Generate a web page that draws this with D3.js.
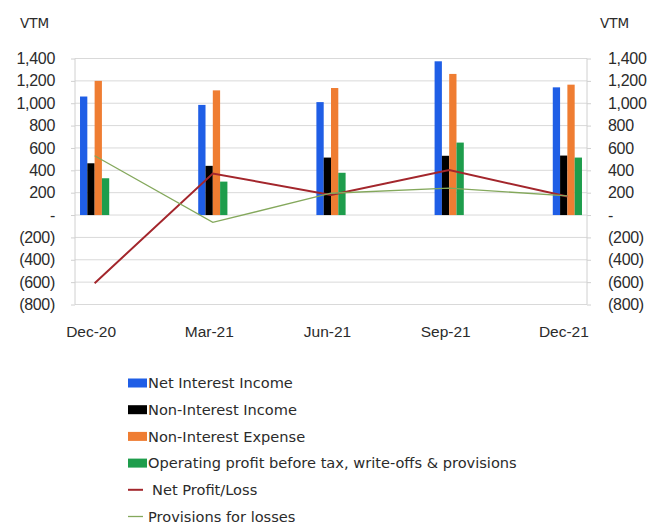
<!DOCTYPE html>
<html>
<head>
<meta charset="utf-8">
<script src="https://cdn.jsdelivr.net/npm/d3@7"></script>
<style>
  html, body { margin: 0; padding: 0; background: #fff; }
  svg { display: block; font-family: "DejaVu Sans", "Noto Sans", sans-serif; }
</style>
</head>
<body>
<svg id="chart" width="652" height="524"></svg>
<script>
// Quarterly figures, VTM
const categories = ["Dec-20", "Mar-21", "Jun-21", "Sep-21", "Dec-21"];
const netInterestIncome = [1060, 985, 1010, 1375, 1142];
const nonInterestIncome = [463, 440, 514, 530, 532];
const nonInterestExpense = [1200, 1115, 1136, 1262, 1166];
const operatingProfit = [329, 299, 378, 648, 514];
const netProfitLoss = [-610, 372, 180, 402, 165];
const provisionsForLosses = [530, -66, 195, 240, 172];
const yTicks = [-800, -600, -400, -200, 0, 200, 400, 600, 800, 1000, 1200, 1400];
const unitLabel = "VTM";

const barSeries = [
  { name: "Net Interest Income", values: netInterestIncome, color: "#1f5ee6" },
  { name: "Non-Interest Income", values: nonInterestIncome, color: "#000000" },
  { name: "Non-Interest Expense", values: nonInterestExpense, color: "#ef7d32" },
  { name: "Operating profit before tax, write-offs & provisions", values: operatingProfit, color: "#1e9d4c" }
];
const lineSeries = [
  { name: "Net Profit/Loss", values: netProfitLoss, color: "#a3262c", width: 2 },
  { name: "Provisions for losses", values: provisionsForLosses, color: "#84a85c", width: 1.3 }
];

const textColor = "#2b2b2b";
const svg = d3.select("#chart");
const plot = { left: 75, right: 587, top: 58.5, bottom: 304.5 };

const x = d3.scalePoint().domain(categories).range([plot.left, plot.right]).padding(0.166);
const y = d3.scaleLinear().domain([-800, 1400]).range([plot.bottom, plot.top]);
const barW = 7.3;
const xb = d3.scaleBand().domain(d3.range(barSeries.length))
  .range([-barW * barSeries.length / 2, barW * barSeries.length / 2]);

const fmt = v => v === 0 ? "-" : (v < 0 ? "(" + d3.format(",")(-v) + ")" : d3.format(",")(v));

// gridlines
svg.append("g").selectAll("line").data(yTicks).join("line")
  .attr("x1", plot.left).attr("x2", plot.right)
  .attr("y1", d => y(d)).attr("y2", d => y(d))
  .attr("stroke", "#d9d9d9").attr("stroke-width", 1);

// plot frame sides
svg.append("g").selectAll("line").data([plot.left, plot.right]).join("line")
  .attr("x1", d => d).attr("x2", d => d)
  .attr("y1", plot.top).attr("y2", plot.bottom)
  .attr("stroke", "#d0d0d0");

// axes
const leftAxis = d3.axisLeft(y).tickValues(yTicks).tickFormat(fmt).tickSize(4).tickPadding(16);
const rightAxis = d3.axisRight(y).tickValues(yTicks).tickFormat(fmt).tickSize(4).tickPadding(17);
const gl = svg.append("g").attr("transform", `translate(${plot.left},0)`).call(leftAxis);
const gr = svg.append("g").attr("transform", `translate(${plot.right},0)`).call(rightAxis);
[gl, gr].forEach(g => {
  g.select(".domain").remove();
  g.selectAll(".tick line").attr("stroke", "#d0d0d0");
  g.selectAll(".tick text").attr("font-size", 16).attr("fill", textColor)
    .attr("letter-spacing", -0.3);
});
gl.selectAll(".tick text").attr("text-anchor", "end");
gr.selectAll(".tick text").attr("text-anchor", "start");

// unit labels
svg.append("text").attr("x", 34.5).attr("y", 28).attr("text-anchor", "middle")
  .attr("font-size", 13.5).attr("fill", textColor).text(unitLabel);
svg.append("text").attr("x", 614.5).attr("y", 28).attr("text-anchor", "middle")
  .attr("font-size", 13.5).attr("fill", textColor).text(unitLabel);

// category labels
const xAxis = d3.axisBottom(x).tickSize(0).tickPadding(21);
const gx = svg.append("g").attr("transform", `translate(0,${plot.bottom})`).call(xAxis);
gx.select(".domain").remove();
gx.selectAll(".tick text").attr("font-size", 15.5).attr("fill", textColor).attr("dx", -4);

// bars
barSeries.forEach((s, i) => {
  svg.append("g").selectAll("rect").data(s.values).join("rect")
    .attr("x", (d, j) => x(categories[j]) + xb(i))
    .attr("width", xb.bandwidth())
    .attr("y", d => y(Math.max(0, d)))
    .attr("height", d => Math.abs(y(d) - y(0)))
    .attr("fill", s.color);
});

// lines
lineSeries.forEach(s => {
  const line = d3.line().x((d, j) => x(categories[j])).y(d => y(d));
  svg.append("path").datum(s.values)
    .attr("d", line).attr("fill", "none")
    .attr("stroke", s.color).attr("stroke-width", s.width);
});

// legend
const legend = svg.append("g").attr("transform", "translate(128,383)");
const rowH = 26.7;
barSeries.forEach((s, i) => {
  const g = legend.append("g").attr("transform", `translate(0,${i * rowH})`);
  g.append("rect").attr("x", 0).attr("y", -4.5).attr("width", 19).attr("height", 9).attr("fill", s.color);
  g.append("text").attr("x", 20).attr("y", 0).attr("dy", "0.35em")
    .attr("font-size", 14.6).attr("fill", textColor).text(s.name);
});
lineSeries.forEach((s, k) => {
  const i = barSeries.length + k;
  const g = legend.append("g").attr("transform", `translate(0,${i * rowH})`);
  g.append("line").attr("x1", 0).attr("x2", 15).attr("y1", 0).attr("y2", 0)
    .attr("stroke", s.color).attr("stroke-width", s.width);
  g.append("text").attr("x", k === 0 ? 24 : 20).attr("y", 0).attr("dy", "0.35em")
    .attr("font-size", 14.6).attr("fill", textColor).text(s.name);
});
</script>
</body>
</html>
